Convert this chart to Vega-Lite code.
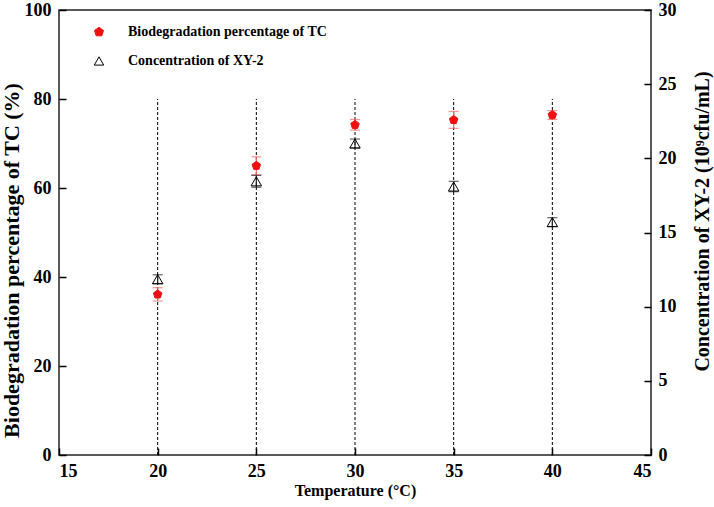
{
  "$schema": "https://vega.github.io/schema/vega-lite/v6.json",
  "width": 592,
  "height": 445,
  "autosize": {"type": "none"},
  "padding": {"left": 59, "top": 10, "right": 63, "bottom": 52},
  "background": "white",
  "config": {
    "font": "Liberation Serif",
    "view": {"stroke": "#222", "strokeWidth": 1.5},
    "axis": {
      "domain": false,
      "grid": false,
      "ticks": true,
      "tickOpacity": 1,
      "zindex": 2,
      "offset": -7,
      "labelFont": "Liberation Serif",
      "labelFontWeight": "bold",
      "labelFontSize": 18,
      "labelColor": "black",
      "titleFont": "Liberation Serif",
      "titleFontWeight": "bold",
      "titleFontSize": 16,
      "titleColor": "black",
      "tickColor": "black",
      "tickWidth": 1.5,
      "tickSize": 7
    },
    "legend": {
      "orient": "none",
      "legendX": 33,
      "legendY": 15,
      "title": null,
      "labelFont": "Liberation Serif",
      "labelFontWeight": "bold",
      "labelFontSize": 14,
      "labelColor": "black",
      "labelLimit": 0,
      "symbolSize": 90,
      "rowPadding": 15,
      "labelOffset": 22,
      "symbolStrokeWidth": 1
    }
  },
  "data": {
    "values": [
      {"t": 20, "series": "Biodegradation percentage of TC", "value": 36.1, "err": 1.5},
      {"t": 25, "series": "Biodegradation percentage of TC", "value": 65.0, "err": 2.0},
      {"t": 30, "series": "Biodegradation percentage of TC", "value": 74.2, "err": 1.2},
      {"t": 35, "series": "Biodegradation percentage of TC", "value": 75.3, "err": 1.9},
      {"t": 40, "series": "Biodegradation percentage of TC", "value": 76.4, "err": 1.0},
      {"t": 20, "series": "Concentration of XY-2", "value": 11.85, "err": 0.3},
      {"t": 25, "series": "Concentration of XY-2", "value": 18.45, "err": 0.4},
      {"t": 30, "series": "Concentration of XY-2", "value": 21.0, "err": 0.3},
      {"t": 35, "series": "Concentration of XY-2", "value": 18.1, "err": 0.35},
      {"t": 40, "series": "Concentration of XY-2", "value": 15.7, "err": 0.3}
    ]
  },
  "encoding": {
    "x": {
      "field": "t",
      "type": "quantitative",
      "scale": {"domain": [15, 45], "nice": false, "zero": false},
      "axis": {"values": [15, 20, 25, 30, 35, 40, 45], "title": "Temperature (°C)", "labelPadding": 7, "titlePadding": 2}
    }
  },
  "layer": [
    {
      "transform": [{"filter": "datum.series === 'Biodegradation percentage of TC'"}],
      "encoding": {
        "y": {
          "field": "value",
          "type": "quantitative",
          "scale": {"domain": [0, 100], "nice": false},
          "axis": {"values": [0, 20, 40, 60, 80, 100], "title": "Biodegradation percentage of TC (%)", "titleFontSize": 22, "titleY": 250, "labelPadding": 8, "titlePadding": 1}
        }
      },
      "layer": [
        {
          "mark": {"type": "rule", "strokeDash": [3, 2], "color": "black", "strokeWidth": 1},
          "encoding": {"y": {"datum": 0, "type": "quantitative"}, "y2": {"datum": 80}}
        },
        {
          "mark": {"type": "errorbar", "ticks": {"size": 10}, "color": "#f06a6a", "thickness": 1.2},
          "encoding": {"yError": {"field": "err"}}
        },
        {
          "mark": {"type": "point", "filled": true, "size": 80, "opacity": 1, "strokeWidth": 1},
          "encoding": {
            "shape": {"field": "series", "type": "nominal", "scale": {"domain": ["Biodegradation percentage of TC", "Concentration of XY-2"], "range": ["M0,-1L0.951,-0.309L0.588,0.809L-0.588,0.809L-0.951,-0.309Z", "triangle-up"]}},
            "fill": {"field": "series", "type": "nominal", "scale": {"domain": ["Biodegradation percentage of TC", "Concentration of XY-2"], "range": ["#ee1111", "transparent"]}},
            "stroke": {"field": "series", "type": "nominal", "scale": {"domain": ["Biodegradation percentage of TC", "Concentration of XY-2"], "range": ["#ee1111", "black"]}}
          }
        }
      ]
    },
    {
      "transform": [{"filter": "datum.series === 'Concentration of XY-2'"}],
      "encoding": {
        "y": {
          "field": "value",
          "type": "quantitative",
          "scale": {"domain": [0, 30], "nice": false},
          "axis": {"orient": "right", "values": [0, 5, 10, 15, 20, 25, 30], "title": "Concentration of XY-2 (10⁹cfu/mL)", "titleFontSize": 20, "titleAngle": 270, "titleBaseline": "top", "titleY": 211, "labelPadding": 7, "titlePadding": 16}
        }
      },
      "layer": [
        {
          "mark": {"type": "errorbar", "ticks": {"size": 10}, "color": "#222", "thickness": 1.2},
          "encoding": {"yError": {"field": "err"}}
        },
        {
          "mark": {"type": "point", "filled": true, "size": 110, "opacity": 1, "strokeWidth": 1},
          "encoding": {
            "shape": {"field": "series", "type": "nominal", "scale": {"domain": ["Biodegradation percentage of TC", "Concentration of XY-2"], "range": ["M0,-1L0.951,-0.309L0.588,0.809L-0.588,0.809L-0.951,-0.309Z", "triangle-up"]}},
            "fill": {"field": "series", "type": "nominal", "scale": {"domain": ["Biodegradation percentage of TC", "Concentration of XY-2"], "range": ["#ee1111", "transparent"]}},
            "stroke": {"field": "series", "type": "nominal", "scale": {"domain": ["Biodegradation percentage of TC", "Concentration of XY-2"], "range": ["#ee1111", "black"]}}
          }
        }
      ]
    }
  ],
  "resolve": {"scale": {"y": "independent"}}
}
